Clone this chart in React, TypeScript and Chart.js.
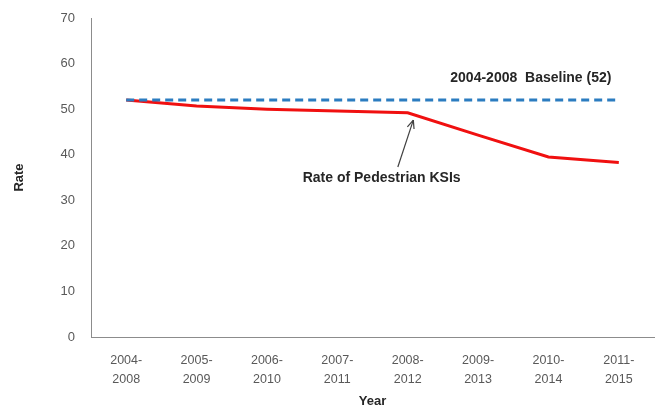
import React, { useEffect, useRef } from "react";
import { Chart, registerables } from "chart.js";

Chart.register(...registerables);

// Rolling five-year periods on the x axis
const periods: string[][] = [
  ["2004-", "2008"],
  ["2005-", "2009"],
  ["2006-", "2010"],
  ["2007-", "2011"],
  ["2008-", "2012"],
  ["2009-", "2013"],
  ["2010-", "2014"],
  ["2011-", "2015"],
];

// Rate of pedestrian KSIs for each rolling period
const pedestrianRate: number[] = [52, 50.7, 50.0, 49.6, 49.2, 44.3, 39.5, 38.3];

// 2004-2008 baseline value, held flat across all periods
const baselineValue = 52;
const baseline: number[] = periods.map(() => baselineValue);

const yTicks: number[] = [0, 10, 20, 30, 40, 50, 60, 70];

const TEXT_FONT = "'Liberation Sans', 'DejaVu Sans', sans-serif";

// Draws the two callout labels and the arrow pointing at the KSI line
const calloutPlugin = {
  id: "callouts",
  afterDatasetsDraw(chart: any) {
    const { ctx, scales } = chart;
    const x = scales.x;
    const y = scales.y;
    ctx.save();
    ctx.fillStyle = "#262626";
    ctx.font = `bold 14px ${TEXT_FONT}`;
    ctx.textAlign = "center";
    ctx.textBaseline = "middle";

    ctx.fillText(
      `2004-2008  Baseline (${baselineValue})`,
      x.getPixelForValue(5.75),
      y.getPixelForValue(56.8)
    );
    ctx.fillText(
      "Rate of Pedestrian KSIs",
      x.getPixelForValue(3.63),
      y.getPixelForValue(34.9)
    );

    // arrow from label up to the 2008-2012 point
    const tx = x.getPixelForValue(3.86);
    const ty = y.getPixelForValue(37.3);
    const hx = x.getPixelForValue(4.08);
    const hy = y.getPixelForValue(47.6);
    ctx.strokeStyle = "#404040";
    ctx.fillStyle = "#404040";
    ctx.lineWidth = 1.2;
    ctx.beginPath();
    ctx.moveTo(tx, ty);
    ctx.lineTo(hx, hy);
    ctx.stroke();
    const ang = Math.atan2(hy - ty, hx - tx);
    const len = 9;
    const spread = 0.4;
    ctx.beginPath();
    ctx.moveTo(hx, hy);
    ctx.lineTo(hx - len * Math.cos(ang - spread), hy - len * Math.sin(ang - spread));
    ctx.moveTo(hx, hy);
    ctx.lineTo(hx - len * Math.cos(ang + spread), hy - len * Math.sin(ang + spread));
    ctx.stroke();
    ctx.restore();
  },
};

export default function App() {
  const canvasRef = useRef<HTMLCanvasElement | null>(null);

  useEffect(() => {
    if (!canvasRef.current) return;
    const chart = new Chart(canvasRef.current, {
      type: "line",
      data: {
        labels: periods,
        datasets: [
          {
            label: "2004-2008 Baseline",
            data: baseline,
            borderColor: "#2B7CC0",
            borderWidth: 3,
            borderDash: [8, 5],
            pointRadius: 0,
            fill: false,
            tension: 0,
          },
          {
            label: "Rate of Pedestrian KSIs",
            data: pedestrianRate,
            borderColor: "#F01010",
            borderWidth: 3,
            pointRadius: 0,
            fill: false,
            tension: 0,
          },
        ],
      },
      options: {
        responsive: false,
        animation: false,
        layout: { padding: { top: 18, right: 2, left: 0, bottom: 0 } },
        plugins: {
          legend: { display: false },
          tooltip: { enabled: false },
          title: { display: false },
        },
        scales: {
          x: {
            type: "category",
            offset: true,
            grid: { display: false },
            border: { display: true, color: "#8c8c8c", width: 1 },
            ticks: {
              color: "#595959",
              font: { family: TEXT_FONT, size: 12.5, lineHeight: 1.5 },
              padding: 6,
              maxRotation: 0,
              autoSkip: false,
            },
            title: {
              display: true,
              text: "Year",
              color: "#262626",
              font: { family: TEXT_FONT, size: 13, weight: "bold" },
              padding: { top: 0, bottom: 0 },
            },
            afterFit(scale: any) {
              scale.height = 72;
              scale.paddingLeft = 0;
              scale.paddingRight = 0;
            },
          },
          y: {
            min: 0,
            max: 70,
            grid: { display: false },
            border: { display: true, color: "#8c8c8c", width: 1 },
            afterBuildTicks(scale: any) {
              scale.ticks = yTicks.map((v) => ({ value: v }));
            },
            ticks: {
              color: "#595959",
              font: { family: TEXT_FONT, size: 13 },
              padding: 8,
            },
            title: {
              display: true,
              text: "Rate",
              color: "#262626",
              font: { family: TEXT_FONT, size: 13, weight: "bold" },
              padding: { top: 12, bottom: 0 },
            },
            afterFit(scale: any) {
              scale.width = 91;
              scale.paddingTop = 0;
              scale.paddingBottom = 0;
            },
          },
        },
      },
      plugins: [calloutPlugin],
    });
    return () => chart.destroy();
  }, []);

  return (
    <div
      style={{
        position: "fixed",
        left: 0,
        top: 0,
        width: 656,
        height: 409,
        background: "#ffffff",
      }}
    >
      <canvas ref={canvasRef} width={656} height={409} />
    </div>
  );
}
